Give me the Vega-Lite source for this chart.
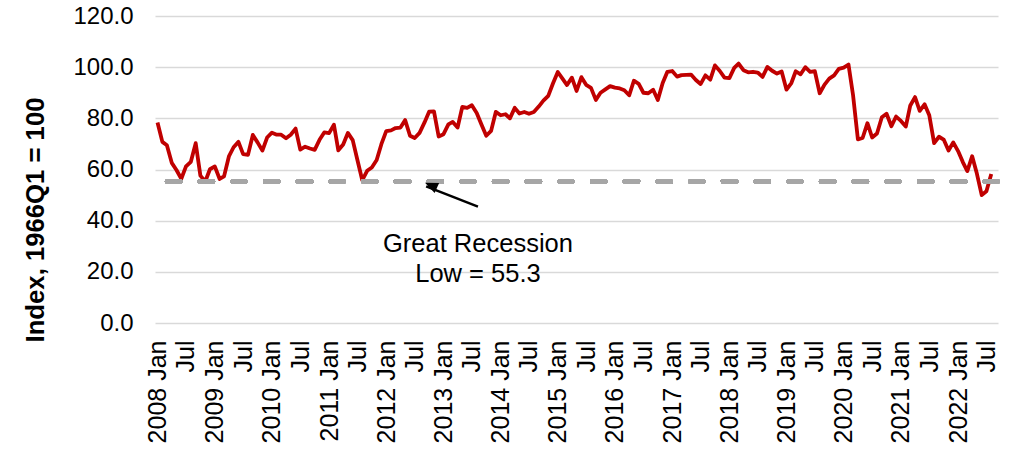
{
  "$schema": "https://vega.github.io/schema/vega-lite/v6.json",
  "autosize": {"type": "none"},
  "padding": {"left": 155, "top": 16, "right": 14, "bottom": 128},
  "width": 843,
  "height": 307,
  "background": "white",
  "config": {"view": {"stroke": null}, "font": "Liberation Sans"},
  "data": {
    "format": {"parse": {"d": "date:'%Y-%m'"}},
    "values": [
      {"d": "2008-01", "v": 78.4}, {"d": "2008-02", "v": 70.8}, {"d": "2008-03", "v": 69.5}, {"d": "2008-04", "v": 62.6},
      {"d": "2008-05", "v": 59.8}, {"d": "2008-06", "v": 56.4}, {"d": "2008-07", "v": 61.2}, {"d": "2008-08", "v": 63.0},
      {"d": "2008-09", "v": 70.3}, {"d": "2008-10", "v": 57.6}, {"d": "2008-11", "v": 55.3}, {"d": "2008-12", "v": 60.1},
      {"d": "2009-01", "v": 61.2}, {"d": "2009-02", "v": 56.3}, {"d": "2009-03", "v": 57.3}, {"d": "2009-04", "v": 65.1},
      {"d": "2009-05", "v": 68.7}, {"d": "2009-06", "v": 70.8}, {"d": "2009-07", "v": 66.0}, {"d": "2009-08", "v": 65.7},
      {"d": "2009-09", "v": 73.5}, {"d": "2009-10", "v": 70.6}, {"d": "2009-11", "v": 67.4}, {"d": "2009-12", "v": 72.5},
      {"d": "2010-01", "v": 74.4}, {"d": "2010-02", "v": 73.6}, {"d": "2010-03", "v": 73.6}, {"d": "2010-04", "v": 72.2},
      {"d": "2010-05", "v": 73.6}, {"d": "2010-06", "v": 76.0}, {"d": "2010-07", "v": 67.8}, {"d": "2010-08", "v": 68.9},
      {"d": "2010-09", "v": 68.2}, {"d": "2010-10", "v": 67.7}, {"d": "2010-11", "v": 71.6}, {"d": "2010-12", "v": 74.5},
      {"d": "2011-01", "v": 74.2}, {"d": "2011-02", "v": 77.5}, {"d": "2011-03", "v": 67.5}, {"d": "2011-04", "v": 69.8},
      {"d": "2011-05", "v": 74.3}, {"d": "2011-06", "v": 71.5}, {"d": "2011-07", "v": 63.7}, {"d": "2011-08", "v": 55.8},
      {"d": "2011-09", "v": 59.5}, {"d": "2011-10", "v": 60.8}, {"d": "2011-11", "v": 63.7}, {"d": "2011-12", "v": 69.9},
      {"d": "2012-01", "v": 75.0}, {"d": "2012-02", "v": 75.3}, {"d": "2012-03", "v": 76.2}, {"d": "2012-04", "v": 76.4},
      {"d": "2012-05", "v": 79.3}, {"d": "2012-06", "v": 73.2}, {"d": "2012-07", "v": 72.3}, {"d": "2012-08", "v": 74.3},
      {"d": "2012-09", "v": 78.3}, {"d": "2012-10", "v": 82.6}, {"d": "2012-11", "v": 82.7}, {"d": "2012-12", "v": 72.9},
      {"d": "2013-01", "v": 73.8}, {"d": "2013-02", "v": 77.6}, {"d": "2013-03", "v": 78.6}, {"d": "2013-04", "v": 76.4},
      {"d": "2013-05", "v": 84.5}, {"d": "2013-06", "v": 84.1}, {"d": "2013-07", "v": 85.1}, {"d": "2013-08", "v": 82.1},
      {"d": "2013-09", "v": 77.5}, {"d": "2013-10", "v": 73.2}, {"d": "2013-11", "v": 75.1}, {"d": "2013-12", "v": 82.5},
      {"d": "2014-01", "v": 81.2}, {"d": "2014-02", "v": 81.6}, {"d": "2014-03", "v": 80.0}, {"d": "2014-04", "v": 84.1},
      {"d": "2014-05", "v": 81.9}, {"d": "2014-06", "v": 82.5}, {"d": "2014-07", "v": 81.8}, {"d": "2014-08", "v": 82.5},
      {"d": "2014-09", "v": 84.6}, {"d": "2014-10", "v": 86.9}, {"d": "2014-11", "v": 88.8}, {"d": "2014-12", "v": 93.6},
      {"d": "2015-01", "v": 98.1}, {"d": "2015-02", "v": 95.4}, {"d": "2015-03", "v": 93.0}, {"d": "2015-04", "v": 95.9},
      {"d": "2015-05", "v": 90.7}, {"d": "2015-06", "v": 96.1}, {"d": "2015-07", "v": 93.1}, {"d": "2015-08", "v": 91.9},
      {"d": "2015-09", "v": 87.2}, {"d": "2015-10", "v": 90.0}, {"d": "2015-11", "v": 91.3}, {"d": "2015-12", "v": 92.6},
      {"d": "2016-01", "v": 92.0}, {"d": "2016-02", "v": 91.7}, {"d": "2016-03", "v": 91.0}, {"d": "2016-04", "v": 89.0},
      {"d": "2016-05", "v": 94.7}, {"d": "2016-06", "v": 93.5}, {"d": "2016-07", "v": 90.0}, {"d": "2016-08", "v": 89.8},
      {"d": "2016-09", "v": 91.2}, {"d": "2016-10", "v": 87.2}, {"d": "2016-11", "v": 93.8}, {"d": "2016-12", "v": 98.2},
      {"d": "2017-01", "v": 98.5}, {"d": "2017-02", "v": 96.3}, {"d": "2017-03", "v": 96.9}, {"d": "2017-04", "v": 97.0},
      {"d": "2017-05", "v": 97.1}, {"d": "2017-06", "v": 95.0}, {"d": "2017-07", "v": 93.4}, {"d": "2017-08", "v": 96.8},
      {"d": "2017-09", "v": 95.1}, {"d": "2017-10", "v": 100.7}, {"d": "2017-11", "v": 98.5}, {"d": "2017-12", "v": 95.9},
      {"d": "2018-01", "v": 95.7}, {"d": "2018-02", "v": 99.7}, {"d": "2018-03", "v": 101.4}, {"d": "2018-04", "v": 98.8},
      {"d": "2018-05", "v": 98.0}, {"d": "2018-06", "v": 98.2}, {"d": "2018-07", "v": 97.9}, {"d": "2018-08", "v": 96.2},
      {"d": "2018-09", "v": 100.1}, {"d": "2018-10", "v": 98.6}, {"d": "2018-11", "v": 97.5}, {"d": "2018-12", "v": 98.3},
      {"d": "2019-01", "v": 91.2}, {"d": "2019-02", "v": 93.8}, {"d": "2019-03", "v": 98.4}, {"d": "2019-04", "v": 97.2},
      {"d": "2019-05", "v": 100.0}, {"d": "2019-06", "v": 98.2}, {"d": "2019-07", "v": 98.4}, {"d": "2019-08", "v": 89.8},
      {"d": "2019-09", "v": 93.2}, {"d": "2019-10", "v": 95.5}, {"d": "2019-11", "v": 96.8}, {"d": "2019-12", "v": 99.3},
      {"d": "2020-01", "v": 99.8}, {"d": "2020-02", "v": 101.0}, {"d": "2020-03", "v": 89.1}, {"d": "2020-04", "v": 71.8},
      {"d": "2020-05", "v": 72.3}, {"d": "2020-06", "v": 78.1}, {"d": "2020-07", "v": 72.5}, {"d": "2020-08", "v": 74.1},
      {"d": "2020-09", "v": 80.4}, {"d": "2020-10", "v": 81.8}, {"d": "2020-11", "v": 76.9}, {"d": "2020-12", "v": 80.7},
      {"d": "2021-01", "v": 79.0}, {"d": "2021-02", "v": 76.8}, {"d": "2021-03", "v": 84.9}, {"d": "2021-04", "v": 88.3},
      {"d": "2021-05", "v": 82.9}, {"d": "2021-06", "v": 85.5}, {"d": "2021-07", "v": 81.2}, {"d": "2021-08", "v": 70.3},
      {"d": "2021-09", "v": 72.8}, {"d": "2021-10", "v": 71.7}, {"d": "2021-11", "v": 67.4}, {"d": "2021-12", "v": 70.6},
      {"d": "2022-01", "v": 67.2}, {"d": "2022-02", "v": 62.8}, {"d": "2022-03", "v": 59.4}, {"d": "2022-04", "v": 65.2},
      {"d": "2022-05", "v": 58.4}, {"d": "2022-06", "v": 50.0}, {"d": "2022-07", "v": 51.5}, {"d": "2022-08", "v": 58.2}
    ]
  },
  "layer": [
    {
      "mark": {"type": "line", "color": "#C00000", "strokeWidth": 3.8, "strokeJoin": "round"},
      "encoding": {
        "x": {
          "field": "d",
          "type": "temporal",
          "scale": {"domain": [{"year": 2007, "month": 12, "date": 16}, {"year": 2022, "month": 9, "date": 13}]},
          "axis": {
            "title": null,
            "tickCount": {"interval": "month", "step": 6},
            "labelExpr": "month(datum.value) == 0 ? timeFormat(datum.value, '%Y') + ' Jan' : 'Jul'",
            "labelAngle": -90,
            "labelAlign": "right",
            "labelBaseline": "middle",
            "labelPadding": 17,
            "labelFontSize": 25,
            "labelColor": "black",
            "labelOverlap": false,
            "labelFlush": false,
            "grid": false,
            "domain": false,
            "ticks": false,
            "tickSize": 0
          }
        },
        "y": {
          "field": "v",
          "type": "quantitative",
          "scale": {"domain": [0, 120]},
          "axis": {
            "title": "Index, 1966Q1 = 100",
            "values": [0, 20, 40, 60, 80, 100, 120],
            "format": ".1f",
            "grid": true,
            "gridColor": "#D9D9D9",
            "gridWidth": 1.5,
            "domain": false,
            "ticks": false,
            "tickSize": 0,
            "labelPadding": 22,
            "labelFontSize": 24,
            "labelColor": "black",
            "titleFontSize": 25.7,
            "titleFontWeight": "bold",
            "titleColor": "black",
            "titlePadding": 24,
            "titleY": 203.5
          }
        }
      }
    },
    {
      "mark": {"type": "rule", "color": "#A6A6A6", "strokeWidth": 4, "strokeDash": [13.7, 19], "strokeCap": "round"},
      "encoding": {"y": {"datum": 55.3}}
    },
    {
      "data": {"values": [{}]},
      "mark": {"type": "rule", "color": "black", "strokeWidth": 2.5},
      "encoding": {
        "x": {"datum": {"year": 2013, "month": 8, "date": 9}, "type": "temporal"},
        "y": {"datum": 45.46},
        "x2": {"datum": {"year": 2012, "month": 9, "date": 12}},
        "y2": {"datum": 53.4}
      }
    },
    {
      "data": {"values": [{}]},
      "mark": {"type": "point", "shape": "M0,0L0.42,1L-0.42,1Z", "filled": true, "color": "black", "opacity": 1, "size": 676, "angle": 294.4},
      "encoding": {
        "x": {"datum": {"year": 2012, "month": 9, "date": 5}, "type": "temporal"},
        "y": {"datum": 54.84}
      }
    },
    {
      "data": {"values": [{}]},
      "mark": {"type": "text", "text": ["Great Recession", "Low = 55.3"], "fontSize": 25.5, "lineHeight": 30, "align": "center", "baseline": "alphabetic", "color": "black"},
      "encoding": {
        "x": {"datum": {"year": 2013, "month": 8, "date": 9}, "type": "temporal"},
        "y": {"datum": 27.87}
      }
    }
  ]
}
